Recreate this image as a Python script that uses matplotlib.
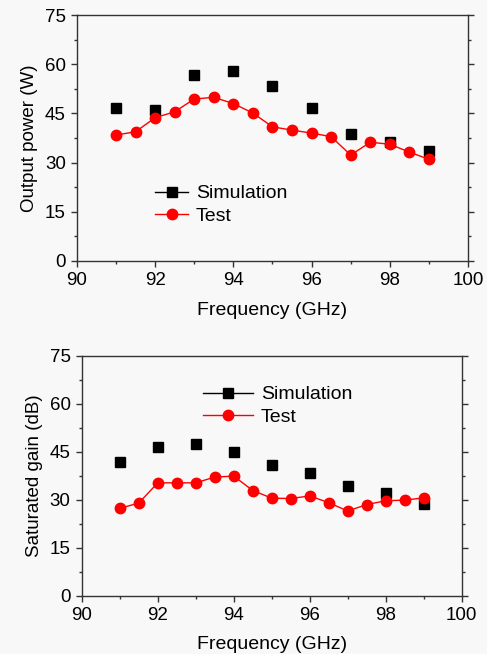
import matplotlib.pyplot as plt
from matplotlib.lines import Line2D
from matplotlib.ticker import MultipleLocator

plt.rcParams['font.family'] = ['Liberation Sans', 'DejaVu Sans']

# Simulation points (every 1 GHz)
sim_freq = [91, 92, 93, 94, 95, 96, 97, 98, 99]
sim_power = [46.5, 46.0, 56.6, 58.0, 53.3, 46.5, 38.6, 36.4, 33.5]
sim_gain = [41.7, 46.4, 47.4, 44.9, 41.0, 38.3, 34.3, 32.0, 28.7]

# Test points (every 0.5 GHz)
test_freq = [91, 91.5, 92, 92.5, 93, 93.5, 94, 94.5, 95, 95.5, 96, 96.5, 97, 97.5, 98, 98.5, 99]
test_power = [38.4, 39.4, 43.7, 45.5, 49.4, 49.9, 48.0, 45.1, 40.9, 39.9, 39.0, 37.9, 32.3, 36.2, 35.6, 33.2, 31.0]
test_gain = [27.3, 29.0, 35.3, 35.3, 35.3, 37.1, 37.4, 32.9, 30.5, 30.4, 31.2, 29.1, 26.5, 28.5, 29.7, 29.9, 30.6]

bg = '#f8f8f8'
fig = plt.figure(figsize=(4.87, 6.54), dpi=100, facecolor=bg)
ax1 = fig.add_axes([0.158, 0.601, 0.803, 0.376])
ax2 = fig.add_axes([0.168, 0.089, 0.780, 0.367])


def style(ax, ylabel):
    ax.set_facecolor(bg)
    ax.set_xlim(90, 100)
    ax.set_ylim(0, 75)
    ax.xaxis.set_major_locator(MultipleLocator(2))
    ax.xaxis.set_minor_locator(MultipleLocator(1))
    ax.yaxis.set_major_locator(MultipleLocator(15))
    ax.yaxis.set_minor_locator(MultipleLocator(7.5))
    ax.tick_params(which='both', direction='out', color='#333333', width=1,
                   right=True, labelsize=13.5, pad=4)
    ax.tick_params(which='major', length=4)
    ax.tick_params(which='minor', length=2.5)
    for s in ax.spines.values():
        s.set_color('#333333')
        s.set_linewidth(1)
    ax.set_xlabel('Frequency (GHz)', fontsize=14, labelpad=9)
    ax.set_ylabel(ylabel, fontsize=13.5, labelpad=5)


def handles():
    return [Line2D([], [], color='black', lw=1, marker='s', ms=6.5, label='Simulation'),
            Line2D([], [], color='red', lw=1, marker='o', ms=7.5, label='Test')]


# Output power
ax1.plot(sim_freq, sim_power, ls='none', marker='s', ms=6.5, color='black')
ax1.plot(test_freq, test_power, '-', color='red', lw=1, marker='o', ms=7.5)
style(ax1, 'Output power (W)')
ax1.legend(handles=handles(), loc='upper left', bbox_to_anchor=(0.2, 0.31),
           frameon=False, fontsize=14, handlelength=1.7, handletextpad=0.4,
           labelspacing=0.25, borderpad=0, borderaxespad=0)

# Saturated gain
ax2.plot(sim_freq, sim_gain, ls='none', marker='s', ms=6.5, color='black')
ax2.plot(test_freq, test_gain, '-', color='red', lw=1, marker='o', ms=7.5)
style(ax2, 'Saturated gain (dB)')
ax2.legend(handles=handles(), loc='upper left', bbox_to_anchor=(0.318, 0.875),
           frameon=False, fontsize=14, handlelength=2.6, handletextpad=0.4,
           labelspacing=0.25, borderpad=0, borderaxespad=0)

fig.savefig('out.png', dpi=100, facecolor=bg)
